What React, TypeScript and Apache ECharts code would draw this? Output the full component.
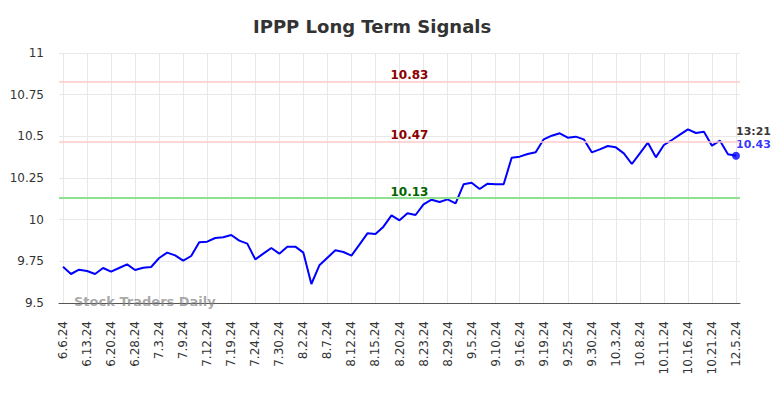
import React, { useEffect, useRef } from "react";
import * as echarts from "echarts";

const tickLabels = [
  "6.6.24", "6.13.24", "6.20.24", "6.28.24", "7.3.24", "7.9.24", "7.12.24", "7.19.24",
  "7.24.24", "7.30.24", "8.2.24", "8.7.24", "8.12.24", "8.15.24", "8.20.24", "8.23.24",
  "8.29.24", "9.5.24", "9.10.24", "9.16.24", "9.19.24", "9.25.24", "9.30.24", "10.3.24",
  "10.8.24", "10.11.24", "10.16.24", "10.21.24", "12.5.24",
];

const prices = [
  9.718, 9.674, 9.70, 9.692, 9.674, 9.71, 9.688, 9.71, 9.732, 9.698,
  9.712, 9.716, 9.77, 9.802, 9.786, 9.754, 9.782, 9.864, 9.868, 9.89,
  9.894, 9.908, 9.874, 9.856, 9.762, 9.796, 9.83, 9.796, 9.838, 9.838,
  9.802, 9.614, 9.726, 9.772, 9.816, 9.806, 9.784, 9.85, 9.918, 9.914,
  9.958, 10.026, 9.996, 10.038, 10.028, 10.092, 10.12, 10.106, 10.122, 10.098,
  10.212, 10.222, 10.184, 10.216, 10.212, 10.212, 10.372, 10.378, 10.394, 10.404,
  10.482, 10.504, 10.518, 10.492, 10.498, 10.482, 10.404, 10.422, 10.442, 10.434,
  10.398, 10.334, 10.398, 10.462, 10.374, 10.448, 10.478, 10.51, 10.542, 10.52,
  10.528, 10.444, 10.474, 10.392, 10.384,
];

const levels = [10.83, 10.47, 10.13];
const levelLineColors = ["#ffcaca", "#ffcaca", "#8fe08f"];
const levelLabelColors = ["#8b0000", "#8b0000", "#006400"];
const levelLineWidths = [1.5, 1.5, 2];

const lastTime = "13:21";
const lastLabel = "10.43";

const yTicks = { min: 9.5, max: 11, interval: 0.25 };
const TICK_EVERY = 3;

export default function App() {
  const ref = useRef<HTMLDivElement>(null);

  useEffect(() => {
    if (!ref.current) return;
    document.body.style.margin = "0";
    const chart = echarts.init(ref.current, undefined, { renderer: "svg" });
    const font = "DejaVu Sans";
    const lastIdx = prices.length - 1;

    chart.setOption({
      animation: false,
      backgroundColor: "#ffffff",
      textStyle: { fontFamily: font },
      title: {
        text: "IPPP Long Term Signals",
        left: 248,
        top: 12,
        textStyle: { fontFamily: font, fontSize: 18, fontWeight: "bold", color: "#333333" },
      },
      grid: [
        { left: 59, right: 44, top: 53, bottom: 95 },
        { left: 63, right: 48, top: 53, bottom: 95 },
      ],
      xAxis: [
        {
          gridIndex: 0,
          type: "value",
          min: 0,
          max: 1,
          axisLabel: { show: false },
          axisTick: { show: false },
          splitLine: { show: false },
          axisLine: { show: true, lineStyle: { color: "#555555", width: 1 } },
        },
        {
          gridIndex: 1,
          type: "value",
          min: 0,
          max: lastIdx,
          interval: TICK_EVERY,
          axisLine: { show: false },
          axisTick: { show: false },
          splitLine: { show: true, lineStyle: { color: "#e8e8e8", width: 1 } },
          axisLabel: {
            rotate: 90,
            margin: 18,
            fontSize: 12,
            color: "#333333",
            fontFamily: font,
            showMinLabel: true,
            showMaxLabel: true,
            formatter: (v: number) => tickLabels[Math.round(v / TICK_EVERY)] ?? "",
          },
        },
      ],
      yAxis: [
        {
          gridIndex: 0,
          type: "value",
          min: yTicks.min,
          max: yTicks.max,
          interval: yTicks.interval,
          axisLine: { show: false },
          axisTick: { show: false },
          splitLine: { show: true, lineStyle: { color: "#e8e8e8", width: 1 } },
          axisLabel: {
            margin: 15,
            fontSize: 12,
            color: "#333333",
            fontFamily: font,
            formatter: (v: number) => String(Number(v.toFixed(2))),
          },
        },
        {
          gridIndex: 1,
          type: "value",
          min: yTicks.min,
          max: yTicks.max,
          show: false,
        },
      ],
      graphic: [
        {
          type: "text",
          left: 74,
          top: 295,
          z: 1,
          style: {
            text: "Stock Traders Daily",
            fontFamily: font,
            fontSize: 13,
            fontWeight: "bold",
            fill: "rgba(130,130,130,0.7)",
          },
        },
      ],
      series: [
        {
          type: "line",
          xAxisIndex: 0,
          yAxisIndex: 0,
          data: [],
          silent: true,
          markLine: {
            silent: true,
            symbol: "none",
            data: levels.map((lv, i) => ({
              yAxis: lv,
              lineStyle: { color: levelLineColors[i], width: levelLineWidths[i], type: "solid" },
              label: {
                show: true,
                position: "insideMiddleTop",
                formatter: lv.toFixed(2),
                color: levelLabelColors[i],
                fontFamily: font,
                fontSize: 12,
                fontWeight: "bold",
                distance: 0,
                offset: [10, 0],
              },
            })),
          },
        },
        {
          type: "line",
          xAxisIndex: 1,
          yAxisIndex: 1,
          data: prices.map((v, i) => [i, v]),
          showSymbol: false,
          symbol: "none",
          lineStyle: { color: "#0000ff", width: 2 },
          z: 3,
        },
        {
          type: "scatter",
          xAxisIndex: 1,
          yAxisIndex: 1,
          data: [[lastIdx, prices[lastIdx]]],
          symbol: "circle",
          symbolSize: 8,
          itemStyle: { color: "#0000ff" },
          z: 4,
          label: {
            show: true,
            position: [4, -27],
            align: "left",
            verticalAlign: "top",
            formatter: `{t|${lastTime}}\n{v|${lastLabel}}`,
            rich: {
              t: { fontFamily: font, fontSize: 11, fontWeight: "bold", color: "#000000", lineHeight: 13 },
              v: { fontFamily: font, fontSize: 11, fontWeight: "bold", color: "#0000ff", lineHeight: 13 },
            },
          },
        },
      ],
    });

    return () => chart.dispose();
  }, []);

  return <div ref={ref} style={{ width: 784, height: 398 }} />;
}
